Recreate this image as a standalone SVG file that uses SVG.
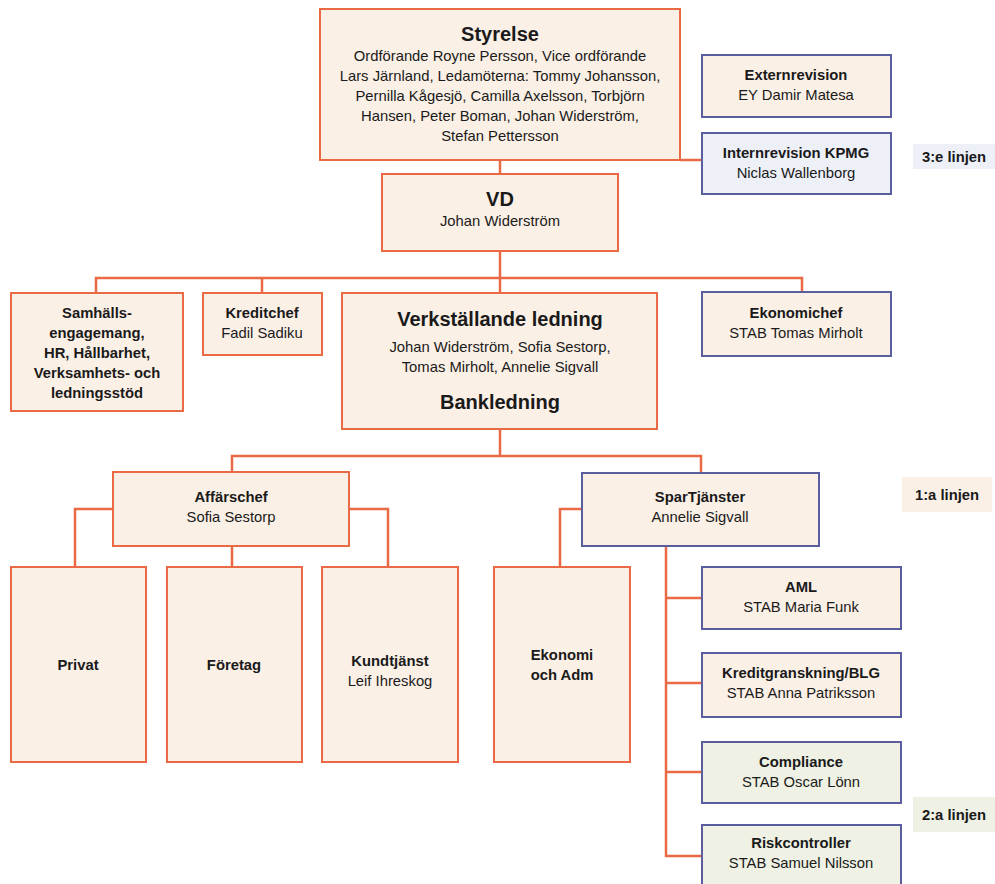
<svg xmlns="http://www.w3.org/2000/svg" width="995" height="884" viewBox="0 0 995 884">
<style>
text{font-family:"Liberation Sans",Arial,sans-serif;fill:#1a1a1a;text-anchor:middle;font-size:14.8px}
.b{font-weight:bold}
.t{font-weight:bold;font-size:20px}
.o{fill:#fbf0e6;stroke:#ea6a45;stroke-width:2}
.u{fill:#fbf0e6;stroke:#5a5e9e;stroke-width:2}
.ub{fill:#eef0f8;stroke:#5a5e9e;stroke-width:2}
.g{fill:#eef1e3;stroke:#5a5e9e;stroke-width:2}
.c{fill:none;stroke:#ea6a45;stroke-width:2.5}
</style>
<rect width="995" height="884" fill="#ffffff"/>
<g id="connectors">
<path class="c" d="M500 160V293"/>
<path class="c" d="M680 160H702"/>
<path class="c" d="M96 293V278H802V292"/>
<path class="c" d="M262 278V293"/>
<path class="c" d="M500 429V456"/>
<path class="c" d="M232 472V456H701V473"/>
<path class="c" d="M113 509H75V567"/>
<path class="c" d="M349 509H388V567"/>
<path class="c" d="M232 546V567"/>
<path class="c" d="M582 509H560V567"/>
<path class="c" d="M666 546V856H702"/>
<path class="c" d="M666 598H702"/>
<path class="c" d="M666 683H702"/>
<path class="c" d="M666 772H702"/>
</g>
<g id="styrelse"><rect class="o" x="320" y="9" width="360" height="151"/>
<text class="t" x="500" y="41">Styrelse</text>
<text x="500" y="61">Ordförande Royne Persson, Vice ordförande</text>
<text x="500" y="81">Lars Järnland, Ledamöterna: Tommy Johansson,</text>
<text x="500" y="101">Pernilla Kågesjö, Camilla Axelsson, Torbjörn</text>
<text x="500" y="121">Hansen, Peter Boman, Johan Widerström,</text>
<text x="500" y="141">Stefan Pettersson</text></g>
<g id="externrevision"><rect class="u" x="702" y="55" width="189" height="62"/>
<text class="b" x="796" y="80">Externrevision</text>
<text x="796" y="100">EY Damir Matesa</text></g>
<g id="internrevision"><rect class="ub" x="702" y="133" width="189" height="61"/>
<text class="b" x="796" y="158">Internrevision KPMG</text>
<text x="796" y="178">Niclas Wallenborg</text></g>
<g id="linje3"><rect x="913" y="144" width="82" height="25" fill="#eef0f8"/>
<text class="b" x="954" y="162">3:e linjen</text></g>
<g id="vd"><rect class="o" x="382" y="174" width="236" height="77"/>
<text class="t" x="500" y="206">VD</text>
<text x="500" y="226">Johan Widerström</text></g>
<g id="samhall"><rect class="o" x="11" y="293" width="172" height="118"/>
<text class="b" x="97" y="318">Samhälls-</text>
<text class="b" x="97" y="338">engagemang,</text>
<text class="b" x="97" y="358">HR, Hållbarhet,</text>
<text class="b" x="97" y="378">Verksamhets- och</text>
<text class="b" x="97" y="398">ledningsstöd</text></g>
<g id="kreditchef"><rect class="o" x="203" y="293" width="119" height="62"/>
<text class="b" x="262" y="318">Kreditchef</text>
<text x="262" y="338">Fadil Sadiku</text></g>
<g id="ledning"><rect class="o" x="342" y="293" width="315" height="136"/>
<text class="t" x="500" y="326">Verkställande ledning</text>
<text x="500" y="352">Johan Widerström, Sofia Sestorp,</text>
<text x="500" y="372">Tomas Mirholt, Annelie Sigvall</text>
<text class="t" x="500" y="409">Bankledning</text></g>
<g id="ekonomichef"><rect class="u" x="702" y="292" width="189" height="64"/>
<text class="b" x="796" y="318">Ekonomichef</text>
<text x="796" y="338">STAB Tomas Mirholt</text></g>
<g id="affarschef"><rect class="o" x="113" y="472" width="236" height="74"/>
<text class="b" x="231" y="502">Affärschef</text>
<text x="231" y="522">Sofia Sestorp</text></g>
<g id="privat"><rect class="o" x="11" y="567" width="135" height="195"/>
<text class="b" x="78" y="670">Privat</text></g>
<g id="foretag"><rect class="o" x="167" y="567" width="135" height="195"/>
<text class="b" x="234" y="670">Företag</text></g>
<g id="kundtjanst"><rect class="o" x="322" y="567" width="136" height="195"/>
<text class="b" x="390" y="666">Kundtjänst</text>
<text x="390" y="686">Leif Ihreskog</text></g>
<g id="ekonomi"><rect class="o" x="494" y="567" width="136" height="195"/>
<text class="b" x="562" y="660">Ekonomi</text>
<text class="b" x="562" y="680">och Adm</text></g>
<g id="spartjanster"><rect class="u" x="582" y="473" width="237" height="73"/>
<text class="b" x="700" y="502">SparTjänster</text>
<text x="700" y="522">Annelie Sigvall</text></g>
<g id="linje1"><rect x="902" y="477" width="90" height="35" fill="#fbf0e6"/>
<text class="b" x="947" y="500">1:a linjen</text></g>
<g id="aml"><rect class="u" x="702" y="567" width="199" height="62"/>
<text class="b" x="801" y="592">AML</text>
<text x="801" y="612">STAB Maria Funk</text></g>
<g id="kreditgranskning"><rect class="u" x="702" y="653" width="199" height="64"/>
<text class="b" x="801" y="678">Kreditgranskning/BLG</text>
<text x="801" y="698">STAB Anna Patriksson</text></g>
<g id="compliance"><rect class="g" x="702" y="742" width="199" height="61"/>
<text class="b" x="801" y="767">Compliance</text>
<text x="801" y="787">STAB Oscar Lönn</text></g>
<g id="riskcontroller"><rect class="g" x="702" y="825" width="199" height="62"/>
<text class="b" x="801" y="848">Riskcontroller</text>
<text x="801" y="868">STAB Samuel Nilsson</text></g>
<g id="linje2"><rect x="913" y="797" width="82" height="35" fill="#eef1e3"/>
<text class="b" x="954" y="820">2:a linjen</text></g>
</svg>
